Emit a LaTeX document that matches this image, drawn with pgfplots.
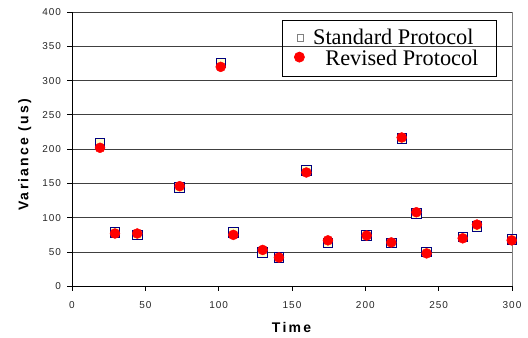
\documentclass[border=0pt]{standalone}
\usepackage{fontspec}
\setmainfont{Liberation Sans}
\newfontfamily\legfont{Liberation Serif}
\newfontfamily\lblfont[LetterSpace=16]{Liberation Sans}
\newfontfamily\tickfont[LetterSpace=10]{Liberation Sans}
\usepackage{pgfplots}
\pgfplotsset{compat=1.18}
\usepackage{pgfplotstable}
\definecolor{navy}{HTML}{000080}
\definecolor{cream}{HTML}{FFFFCC}
\definecolor{gridc}{HTML}{404040}
\definecolor{bordc}{HTML}{808080}

\pgfplotstableread{
t std rev
19.1 208 202
29.3 78.5 77
44.5 75 77
73.4 144 146
101.4 326 320
110 78.5 75
130 49 53
141.1 42 42
159.8 169 166
174.5 63 67
200.9 74 74
217.7 63 64
224.8 216 217
234.8 106 108
241.8 50 48
266.4 72 70
276.1 87 90
299.8 68 67
}\datatable

\begin{document}
\begin{tikzpicture}
\begin{axis}[
  scale only axis,
  width=440bp, height=274.3bp,
  xmin=0, xmax=300, ymin=0, ymax=400,
  xtick={0,50,...,300}, ytick={0,50,...,400},
  axis x line*=bottom, axis y line*=left,
  axis line style={black, line width=0.8bp, -},
  tick align=outside, major tick length=4.5bp,
  tick style={black, line width=0.8bp},
  ymajorgrids, major grid style={gridc, line width=0.8bp},
  extra x ticks={300}, extra x tick labels={},
  extra x tick style={grid=major, major grid style={bordc, line width=0.8bp}, major tick length=0pt},
  /pgf/number format/assume math mode=true,
  tick label style={font=\tickfont\fontsize{10bp}{12bp}\selectfont, text=black!85},
  xticklabel style={yshift=-7bp},
  yticklabel style={xshift=-3bp},
  xlabel={Time}, ylabel={Variance (us)},
  label style={font=\lblfont\bfseries\fontsize{14bp}{16bp}\selectfont},
  xlabel style={at={(axis description cs:0.499,-0.1694)}, anchor=base},
  ylabel style={at={(axis description cs:-0.0993,0.479)}, anchor=base, rotate=0},
  clip=false,
  legend style={at={(axis description cs:0.4773,0.971)}, anchor=north west,
    draw=black, line width=0.8bp, fill=none, inner xsep=11bp, inner ysep=6.5bp,
    font=\legfont\fontsize{22.3bp}{22.3bp}\selectfont,
    nodes={inner sep=0pt, text height=17.5bp, text depth=4bp},
    row sep=0pt, column sep=0pt},
  legend cell align=left,
]
\addplot[draw=none, mark=square*, mark size=4.8bp,
  mark options={draw=navy, fill=cream, line width=0.8bp},
  legend image code/.code={\path[draw=none] (0bp,-3bp) rectangle (19.7bp,3bp);
    \path[draw=none, mark=square*, mark size=3.3bp, mark options={draw=bordc, fill=white, line width=0.5bp}] plot coordinates {(7bp,0bp)};}]
  table[x=t, y=std] {\datatable};
\addlegendentry{\makebox[172.3bp][l]{Standard Protocol}}
\addplot[draw=none, mark=*, mark size=5bp,
  mark options={draw=red, fill=red},
  legend image code/.code={\path[draw=none] (0bp,-3bp) rectangle (19.7bp,3bp);
    \path[draw=none, mark=*, mark size=5bp, mark options={draw=red, fill=red}] plot coordinates {(6bp,2bp)};}]
  table[x=t, y=rev] {\datatable};
\addlegendentry{\makebox[172.3bp][l]{\hspace{12.3bp}Revised Protocol}}
\end{axis}
\path[use as bounding box] (-72bp,-51bp) rectangle (456bp,286.3bp);
\end{tikzpicture}
\end{document}
